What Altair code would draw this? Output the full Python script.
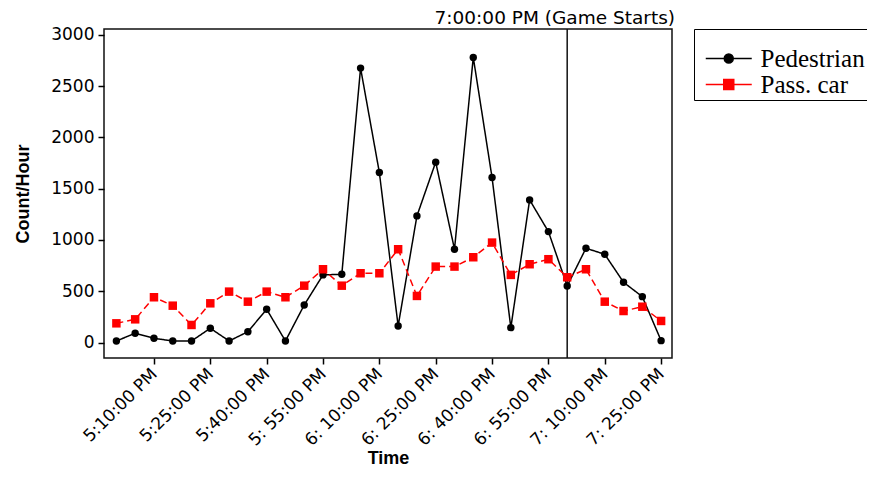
import altair as alt
import pandas as pd

# ---------------- data ----------------
TIMES = ["17:00", "17:05", "17:10", "17:15", "17:20", "17:25", "17:30", "17:35",
         "17:40", "17:45", "17:50", "17:55", "18:00", "18:05", "18:10", "18:15",
         "18:20", "18:25", "18:30", "18:35", "18:40", "18:45", "18:50", "18:55",
         "19:00", "19:05", "19:10", "19:15", "19:20", "19:25"]
PEDESTRIAN = [15, 90, 41, 15, 15, 139, 15, 105, 324, 15, 366, 659,
              665, 2675, 1657, 161, 1234, 1758, 909, 2779, 1608, 145, 1390, 1081,
              551, 919, 860, 587, 447, 18]
PASS_CAR = [187, 226, 441, 359, 171, 382, 496, 398, 496, 441, 554, 714,
            554, 675, 675, 909, 454, 740, 740, 831, 974, 659, 763, 812,
            636, 714, 398, 307, 349, 210]
SERIES = ["Pedestrian", "Pass. car"]
SERIES_COLORS = ["#000000", "#ff0000"]
TICK_TIMES = ["17:10", "17:25", "17:40", "17:55", "18:10", "18:25", "18:40",
              "18:55", "19:10", "19:25"]
TICK_LABELS = ["5:10:00 PM", "5:25:00 PM", "5:40:00 PM", "5: 55:00 PM",
               "6: 10:00 PM", "6: 25:00 PM", "6: 40:00 PM", "6: 55:00 PM",
               "7: 10:00 PM", "7: 25:00 PM"]
Y_TICKS = [0, 500, 1000, 1500, 2000, 2500, 3000]
GAME_START = "19:00"
GAME_LABEL = "7:00:00 PM (Game Starts)"


def minutes(t):
    h, m = t.split(":")
    return int(h) * 60 + int(m) - 17 * 60


rows = []
for t, p, c in zip(TIMES, PEDESTRIAN, PASS_CAR):
    rows.append({"minute": minutes(t), "count": p, "series": SERIES[0]})
    rows.append({"minute": minutes(t), "count": c, "series": SERIES[1]})
df = pd.DataFrame(rows)
rule_df = pd.DataFrame({"minute": [minutes(GAME_START)], "label": [GAME_LABEL]})

tick_vals = [minutes(t) for t in TICK_TIMES]
label_expr = "''"
for v, lbl in reversed(list(zip(tick_vals, TICK_LABELS))):
    label_expr = f"datum.value == {v} ? '{lbl}' : ({label_expr})"

W, H = 568, 329
x_scale = alt.Scale(domain=[-3.3, 147.9], nice=False, zero=False)
y_scale = alt.Scale(domain=[-151, 3056], nice=False, zero=False)

x_enc = alt.X("minute:Q", scale=x_scale,
              axis=alt.Axis(values=tick_vals, labelExpr=label_expr, labelAngle=-45,
                            labelAlign="right", labelBaseline="middle",
                            labelOverlap=False, tickSize=6, labelPadding=7,
                            title="Time", titlePadding=1))
y_enc = alt.Y("count:Q", scale=y_scale,
              axis=alt.Axis(values=Y_TICKS, format="d", tickSize=6, labelPadding=4,
                            title="Count/Hour", titlePadding=18))
color_enc = alt.Color("series:N", scale=alt.Scale(domain=SERIES, range=SERIES_COLORS),
                      legend=None)

base = alt.Chart(df).encode(x=x_enc, y=y_enc)

rule = alt.Chart(rule_df).mark_rule(color="#111111", strokeWidth=1.5).encode(
    x=alt.X("minute:Q", scale=x_scale))

game_text = alt.Chart(rule_df).mark_text(
    align="right", baseline="alphabetic", font="DejaVu Sans", fontSize=18.5,
    color="black").encode(x=alt.value(W + 3), y=alt.value(-5), text="label:N")

lines = base.mark_line(strokeWidth=1.5).encode(
    color=color_enc,
    strokeDash=alt.StrokeDash("series:N",
                              scale=alt.Scale(domain=SERIES, range=[[1, 0], [7, 4]]),
                              legend=None))

points = base.mark_point(filled=True, opacity=1, strokeWidth=0).encode(
    color=color_enc,
    shape=alt.Shape("series:N", scale=alt.Scale(domain=SERIES, range=["circle", "square"]),
                    legend=None),
    size=alt.Size("series:N", scale=alt.Scale(domain=SERIES, range=[55, 72]), legend=None))

PED_PATH = "M-2.3,0H2.3M-0.45,0A0.45,0.45 0 1,0 0.45,0A0.45,0.45 0 1,0 -0.45,0Z"
CAR_PATH = "M-2.3,0H2.3M-0.5,-0.5H0.5V0.5H-0.5Z"
sym_color = alt.ExprRef(expr="scale('color', datum.value)")
LEGEND_SPACER = "\u00a0" * 90

legend_layer = base.mark_point(filled=True, opacity=0).encode(
    color=color_enc,
    shape=alt.Shape("series:N", scale=alt.Scale(domain=SERIES, range=[PED_PATH, CAR_PATH]),
                    legend=alt.Legend(
                        title=LEGEND_SPACER, orient="none", legendX=590, legendY=0,
                        padding=2, symbolOffset=20.25, symbolSize=400,
                        symbolStrokeWidth=1.5, symbolOpacity=1,
                        symbolFillColor=sym_color, symbolStrokeColor=sym_color,
                        labelOffset=19.25,
                        labelFont="Liberation Serif", labelFontSize=25,
                        labelColor="black", labelLimit=300,
                        titleFontSize=9, titlePadding=6, titleLimit=600,
                        strokeColor="black", fillColor="white", rowPadding=0)))

chart = alt.layer(rule, lines, points, legend_layer, game_text).resolve_scale(
    shape="independent"
).properties(
    width=W, height=H,
    autosize=alt.AutoSizeParams(type="none"),
    padding={"left": 96, "top": 21, "right": 195, "bottom": 113},
).configure_axis(
    labelFont="DejaVu Sans", labelFontSize=17, labelColor="black",
    titleFont="Liberation Sans", titleFontSize=18, titleFontWeight="bold",
    titleColor="black", tickColor="black", tickWidth=1.5, domain=False, grid=False,
).configure_view(stroke="#111111", strokeWidth=1.5)

chart.save("out.html", embed_options={"renderer": "svg", "actions": False})
